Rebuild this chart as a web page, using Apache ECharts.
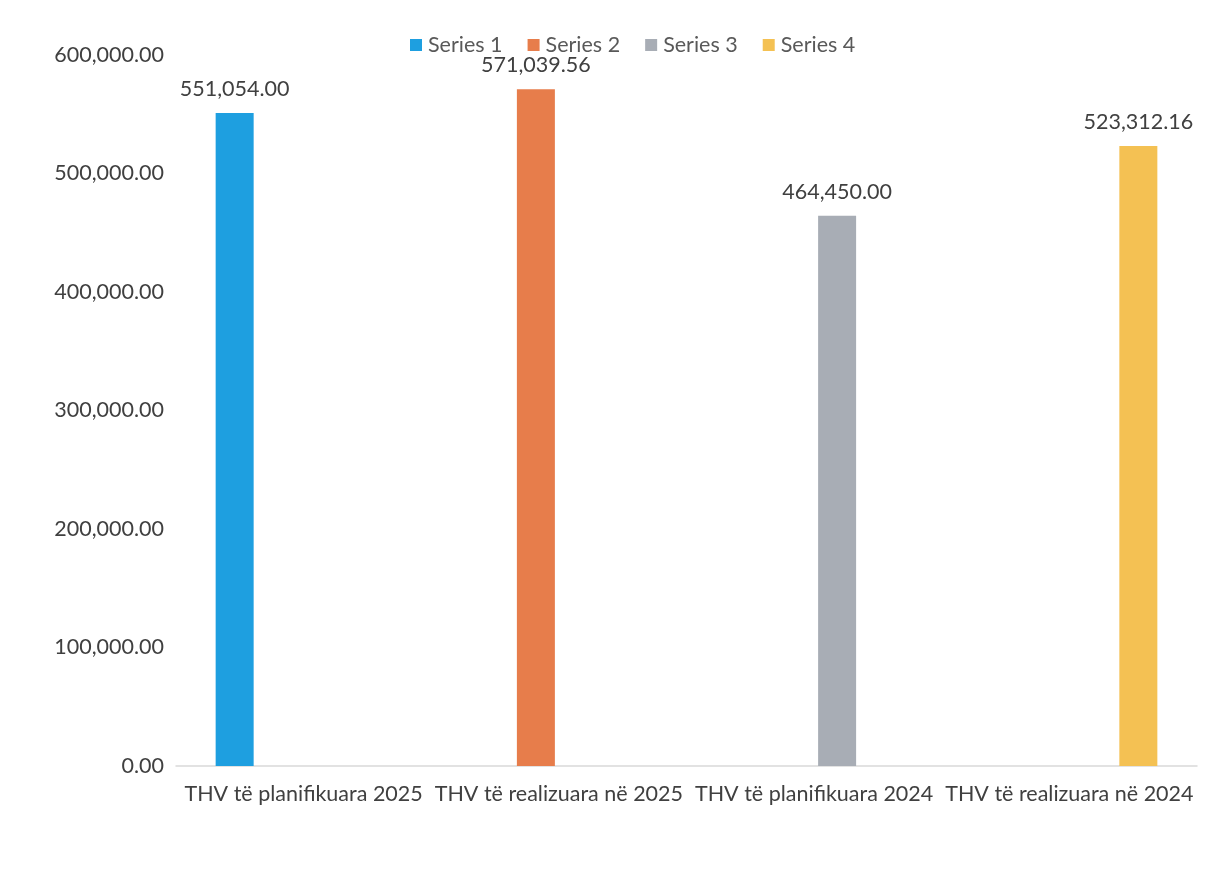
<!DOCTYPE html>
<html>
<head>
<meta charset="utf-8">
<script src="https://cdn.jsdelivr.net/npm/echarts@6/dist/echarts.min.js"></script>
<style>
html,body{margin:0;padding:0;background:#fff;}
#chart{width:1232px;height:870px;}
</style>
</head>
<body>
<div id="chart"></div>
<script>
const categories = ['THV të planifikuara 2025', 'THV të realizuara në 2025', 'THV të planifikuara 2024', 'THV të realizuara në 2024'];
const seriesNames = ['Series 1', 'Series 2', 'Series 3', 'Series 4'];
const series1 = [551054.00, '-', '-', '-'];
const series2 = ['-', 571039.56, '-', '-'];
const series3 = ['-', '-', 464450.00, '-'];
const series4 = ['-', '-', '-', 523312.16];
const colors = ['#1E9FE0', '#E77D4B', '#A8ADB5', '#F4C153'];

const fmt = v => Number(v).toLocaleString('en-US', {minimumFractionDigits: 2, maximumFractionDigits: 2});
const font = 'Lato, "Open Sans", sans-serif';
const allData = [series1, series2, series3, series4];

const chart = echarts.init(document.getElementById('chart'));
chart.setOption({
  backgroundColor: '#fff',
  color: colors,
  textStyle: {fontFamily: font},
  legend: {
    top: 29, left: 405,
    itemWidth: 12, itemHeight: 12, itemGap: 25,
    icon: 'rect',
    textStyle: {fontSize: 21.5, color: '#595959', fontFamily: font, padding: [0, 0, 0, 1]},
    data: seriesNames
  },
  grid: {left: 176, right: 35, top: 55, bottom: 104},
  xAxis: {
    type: 'category',
    data: categories,
    axisLine: {lineStyle: {color: '#D9D9D9', width: 1.5}},
    axisTick: {show: false},
    axisLabel: {fontSize: 21.5, color: '#404040', fontFamily: font, margin: 17, interval: 0}
  },
  yAxis: {
    type: 'value',
    min: 0, max: 600000, interval: 100000,
    splitLine: {show: false},
    axisLine: {show: false},
    axisTick: {show: false},
    axisLabel: {fontSize: 21.5, color: '#404040', fontFamily: font, margin: 12, formatter: v => fmt(v)}
  },
  series: seriesNames.map((n, i) => ({
    name: n,
    type: 'bar',
    data: allData[i],
    barWidth: 38,
    barGap: '21%',
    label: {
      show: true, position: 'top', distance: 13,
      fontSize: 21.5, color: '#404040', fontFamily: font,
      formatter: p => fmt(p.value)
    }
  }))
});
</script>
</body>
</html>
